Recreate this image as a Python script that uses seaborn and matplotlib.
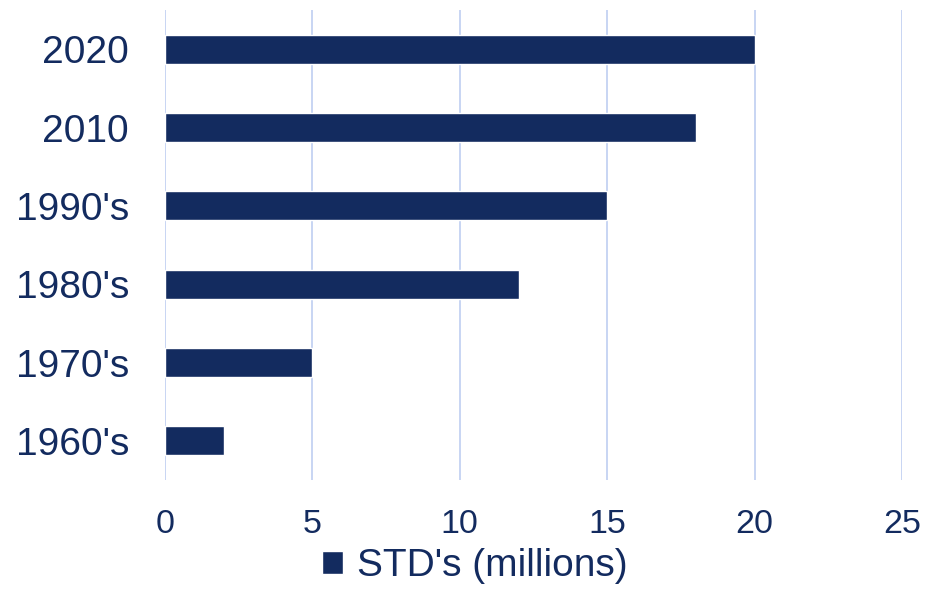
import matplotlib
matplotlib.use("Agg")
import matplotlib.pyplot as plt
import seaborn as sns
import pandas as pd

# Decades and STD case counts (millions)
periods = ["2020", "2010", "1990's", "1980's", "1970's", "1960's"]
std_millions = [20, 18, 15, 12, 5, 2]
x_ticks = [0, 5, 10, 15, 20, 25]
series_label = "STD's (millions)"

navy = "#132b5f"
grid_col = "#c8d5f3"

sns.set_theme(style="white")
plt.rcParams["font.family"] = ["Liberation Sans", "DejaVu Sans"]

df = pd.DataFrame({"period": periods, "value": std_millions})

fig = plt.figure(figsize=(9.43, 5.89), dpi=100)
ax = fig.add_axes([0.175, 0.185, 0.7815, 0.798])

sns.barplot(data=df, x="value", y="period", order=periods, color=navy,
            saturation=1, width=0.37, orient="h", ax=ax, label=series_label)

ax.set_xlim(0, 25)
ax.set_ylim(len(periods) - 0.5, -0.5)
ax.set_xticks(x_ticks)
ax.set_xticklabels([str(t) for t in x_ticks])
ax.xaxis.grid(True, color=grid_col, linewidth=1.4)
ax.yaxis.grid(False)
ax.set_axisbelow(True)
for s in ax.spines.values():
    s.set_visible(False)
ax.set_xlabel("")
ax.set_ylabel("")
ax.tick_params(axis="x", labelsize=24.5, colors=navy, length=0, pad=21)
ax.tick_params(axis="y", labelsize=28, colors=navy, length=0, pad=26)

handles, labels = ax.get_legend_handles_labels()
if ax.get_legend() is not None:
    ax.get_legend().remove()
fig.legend(handles, labels, loc="center", bbox_to_anchor=(0.503, 0.039),
           frameon=False, fontsize=28, labelcolor=navy, handlelength=0.55,
           handleheight=0.55, handletextpad=0.35, borderpad=0)

fig.savefig("out.png", dpi=100)
